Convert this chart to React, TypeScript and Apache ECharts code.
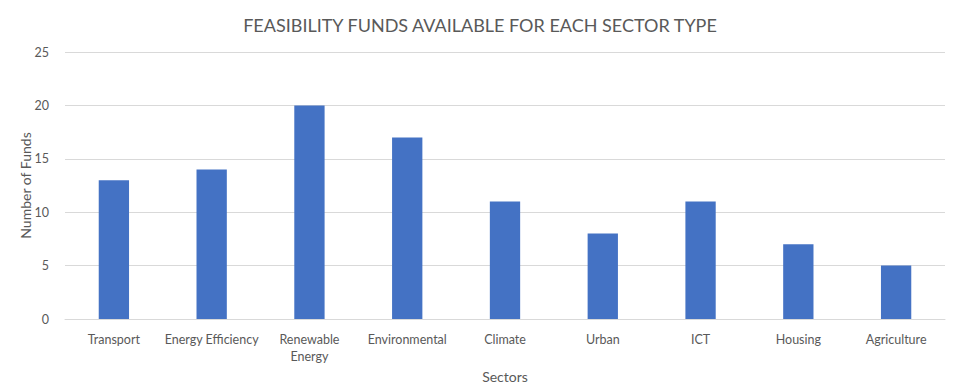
import React, { useEffect, useRef } from "react";
import * as echarts from "echarts";

const categories = ["Transport", "Energy Efficiency", "Renewable\nEnergy", "Environmental", "Climate", "Urban", "ICT", "Housing", "Agriculture"];
const values = [13, 14, 20, 17, 11, 8, 11, 7, 5];
const yTicks = { min: 0, max: 25, interval: 5 };

const FONT = "Lato, 'Open Sans', sans-serif";

export default function App() {
  const ref = useRef<HTMLDivElement>(null);
  useEffect(() => {
    if (!ref.current) return;
    const chart = echarts.init(ref.current, null, { renderer: "svg" });
    chart.setOption({
      animation: false,
      backgroundColor: "#ffffff",
      title: {
        text: "FEASIBILITY FUNDS AVAILABLE FOR EACH SECTOR TYPE",
        left: "center",
        top: 11,
        textStyle: { fontFamily: FONT, fontSize: 18, fontWeight: "normal", color: "#595959" },
      },
      grid: { left: 65, right: 15, top: 52, bottom: 73 },
      xAxis: {
        type: "category",
        data: categories,
        name: "Sectors",
        nameLocation: "middle",
        nameGap: 49,
        nameTextStyle: { fontFamily: FONT, fontSize: 14, color: "#595959" },
        axisLine: { lineStyle: { color: "#d9d9d9" } },
        axisTick: { show: false },
        axisLabel: { fontFamily: FONT, fontSize: 12.5, color: "#595959", margin: 12, interval: 0, lineHeight: 17 },
      },
      yAxis: {
        type: "value",
        min: yTicks.min,
        max: yTicks.max,
        interval: yTicks.interval,
        name: "Number of Funds",
        nameLocation: "middle",
        nameGap: 33,
        nameMoveOverlap: false,
        nameTextStyle: { fontFamily: FONT, fontSize: 14, color: "#595959" },
        axisLine: { show: false },
        axisTick: { show: false },
        axisLabel: { fontFamily: FONT, fontSize: 12.5, color: "#595959", margin: 16 },
        splitLine: { lineStyle: { color: "#d9d9d9" } },
      },
      series: [
        {
          type: "bar",
          data: values,
          barWidth: "31%",
          itemStyle: { color: "#4472C4" },
        },
      ],
    });
    return () => chart.dispose();
  }, []);
  return <div ref={ref} style={{ width: 960, height: 392, margin: -8 }} />;
}
